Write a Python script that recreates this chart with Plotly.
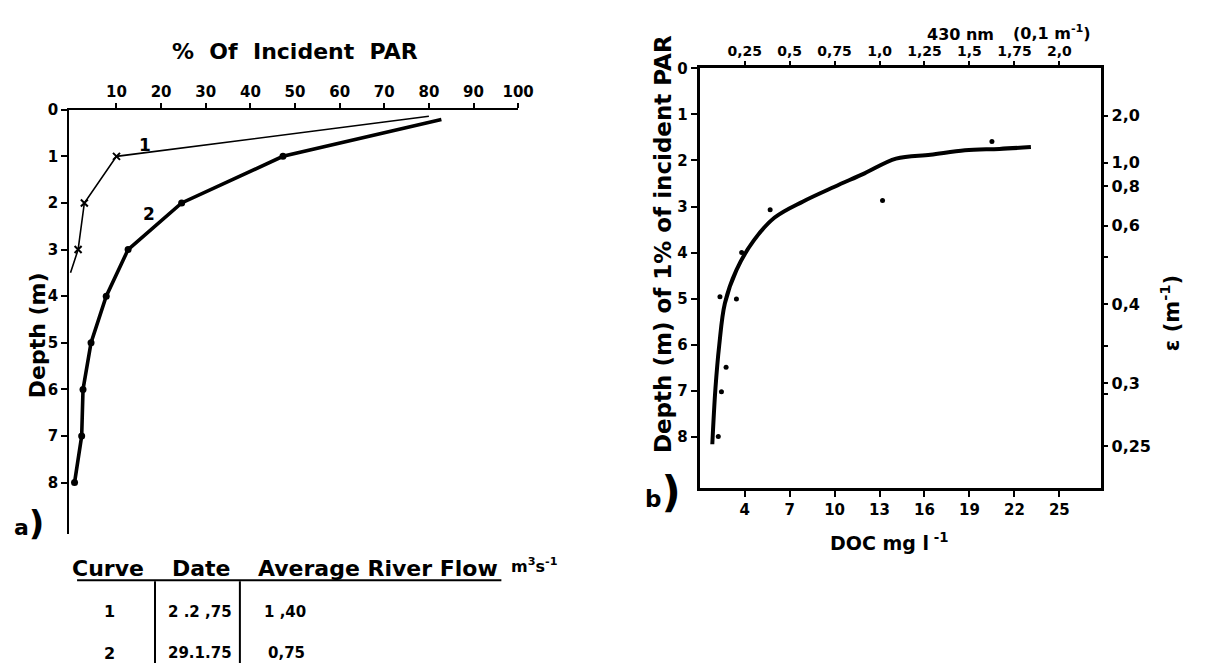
import plotly.graph_objects as go

W, H = 1208, 663
FONT = "DejaVu Sans"

# ---------------- Panel a data ----------------
curve1_par = [80, 10, 2.8, 1.4, -0.3]
curve1_depth = [0.14, 1, 2, 3, 3.5]
curve2_par = [82.8, 47.3, 24.6, 12.6, 7.7, 4.3, 2.5, 2.2, 0.6]
curve2_depth = [0.21, 1, 2, 3, 4, 5, 6, 7, 8]
a_xticks = [10, 20, 30, 40, 50, 60, 70, 80, 90, 100]
a_yticks = [0, 1, 2, 3, 4, 5, 6, 7, 8]

# ---------------- Panel b data ----------------
fit_doc = [1.84, 2.05, 2.3, 2.68, 3.45, 4.6, 6.0, 7.9, 10.0, 12.0, 14.1, 16.4, 18.7, 21.0, 23.1]
fit_depth = [8.16, 6.95, 6.02, 5.1, 4.38, 3.74, 3.24, 2.89, 2.57, 2.28, 1.96, 1.875, 1.78, 1.75, 1.71]
obs_doc = [20.5, 13.2, 5.7, 3.8, 2.35, 3.45, 2.76, 2.45, 2.24]
obs_depth = [1.59, 2.87, 3.07, 4.0, 4.96, 5.01, 6.49, 7.02, 7.99]
doc_ticks = [4, 7, 10, 13, 16, 19, 22, 25]
abs_ticks = [0.25, 0.5, 0.75, 1.0, 1.25, 1.5, 1.75, 2.0]
abs_labels = ["0,25", "0,5", "0,75", "1,0", "1,25", "1,5", "1,75", "2,0"]
b_yticks = [0, 1, 2, 3, 4, 5, 6, 7, 8]
eps_ticks = [2.0, 1.0, 0.8, 0.6, 0.4, 0.3, 0.25]
eps_labels = ["2,0", "1,0", "0,8", "0,6", "0,4", "0,3", "0,25"]
eps_minor = [0.5, 0.34, 0.29]
EPS_K = 2.05  # depth of 1% light ~ K / epsilon (as drawn)

# ---------------- Table ----------------
tbl_curve = ["1", "2"]
tbl_date = ["2 .2 ,75", "29.1.75"]
tbl_flow = ["1 ,40", "0,75"]

DOC0, DOC_PER_ABS = 1.0, 12.0
doc_range = [1.0, 27.8]
abs_range = [(doc_range[0] - DOC0) / DOC_PER_ABS, (doc_range[1] - DOC0) / DOC_PER_ABS]


def px(x):
    return x / W


def py(y):
    return 1 - y / H


fig = go.Figure()

# Panel a curves
fig.add_trace(go.Scatter(x=curve1_par, y=curve1_depth, mode="lines",
                         line=dict(color="black", width=1.6), xaxis="x", yaxis="y",
                         showlegend=False, hoverinfo="skip"))
fig.add_trace(go.Scatter(x=curve1_par[1:4], y=curve1_depth[1:4], mode="markers",
                         marker=dict(symbol="x-thin", size=7, color="black",
                                     line=dict(width=2, color="black")),
                         xaxis="x", yaxis="y", showlegend=False))
fig.add_trace(go.Scatter(x=curve2_par, y=curve2_depth, mode="lines",
                         line=dict(color="black", width=3.6), xaxis="x", yaxis="y",
                         showlegend=False))
fig.add_trace(go.Scatter(x=curve2_par[1:], y=curve2_depth[1:], mode="markers",
                         marker=dict(symbol="circle", size=7, color="black"),
                         xaxis="x", yaxis="y", showlegend=False))

# Panel b
fig.add_trace(go.Scatter(x=fit_doc, y=fit_depth, mode="lines",
                         line=dict(color="black", width=4, shape="spline", smoothing=1.0),
                         xaxis="x2", yaxis="y2", showlegend=False))
fig.add_trace(go.Scatter(x=obs_doc, y=obs_depth, mode="markers",
                         marker=dict(symbol="circle", size=5, color="black"),
                         xaxis="x2", yaxis="y2", showlegend=False))
# invisible trace to activate top / right axes
fig.add_trace(go.Scatter(x=[abs_ticks[0]], y=[b_yticks[0]], mode="markers",
                         marker=dict(size=1, color="rgba(0,0,0,0)"),
                         xaxis="x3", yaxis="y3", showlegend=False, hoverinfo="skip"))

tickf = dict(family=FONT, size=15, color="black", weight="bold")
tickf_b = dict(family=FONT, size=14, color="black", weight="bold")

fig.update_layout(
    width=W, height=H, autosize=False,
    margin=dict(l=0, r=0, t=0, b=0),
    paper_bgcolor="white", plot_bgcolor="rgba(0,0,0,0)",
    font=dict(family=FONT, color="black"),
    xaxis=dict(domain=[px(62), px(517)], range=[-0.6, 100], side="top", anchor="y",
               tickvals=a_xticks, ticks="outside", ticklen=5, tickwidth=2, tickcolor="black",
               showline=True, linewidth=2, linecolor="black", showgrid=False, zeroline=False,
               tickfont=tickf, fixedrange=True),
    yaxis=dict(domain=[py(524), py(94)], range=[9.1, 0], anchor="x",
               tickvals=a_yticks, ticks="outside", ticklen=6, tickwidth=2, tickcolor="black",
               showline=True, linewidth=2, linecolor="black", showgrid=False, zeroline=False,
               tickfont=tickf, fixedrange=True),
    xaxis2=dict(domain=[px(701), px(1108)], range=doc_range, side="bottom", anchor="y2",
                tickvals=doc_ticks, ticks="outside", ticklen=6, tickwidth=2, tickcolor="black",
                showline=True, mirror=True, linewidth=3, linecolor="black",
                showgrid=False, zeroline=False, tickfont=tickf, fixedrange=True),
    xaxis3=dict(overlaying="x2", range=abs_range, side="top", anchor="y2",
                tickvals=abs_ticks, ticktext=abs_labels, ticks="outside", ticklen=6,
                tickwidth=2, tickcolor="black", showline=False, showgrid=False,
                zeroline=False, tickfont=tickf_b, fixedrange=True),
    yaxis2=dict(domain=[py(477), py(52)], range=[9.1, 0], anchor="x2",
                tickvals=b_yticks, ticks="outside", ticklen=6, tickwidth=2, tickcolor="black",
                showline=True, mirror=True, linewidth=3, linecolor="black",
                showgrid=False, zeroline=False, tickfont=tickf, fixedrange=True),
    yaxis3=dict(overlaying="y2", range=[9.1, 0], side="right", anchor="x2",
                tickvals=[EPS_K / e for e in eps_ticks], ticktext=eps_labels,
                ticks="outside", ticklen=6, tickwidth=2, tickcolor="black",
                minor=dict(tickmode="array", tickvals=[EPS_K / e for e in eps_minor],
                           ticks="outside", ticklen=6, tickwidth=2, tickcolor="black"),
                showline=False, showgrid=False, zeroline=False,
                tickfont=dict(family=FONT, size=16, color="black", weight="bold"),
                fixedrange=True),
)


def ann(text, x, y, size, angle=0, xanchor="center", yanchor="middle", ref="paper"):
    if ref == "paper":
        x, y = px(x), py(y)
        xr, yr = "paper", "paper"
    else:
        xr, yr = ref
    fig.add_annotation(text=text, x=x, y=y, xref=xr, yref=yr, showarrow=False,
                       textangle=angle, xanchor=xanchor, yanchor=yanchor,
                       font=dict(family=FONT, size=size, color="black", weight="bold"))


# Panel a texts
ann("%  Of  Incident  PAR", 291, 35, 22)
ann("Depth (m)", 30, 323, 22, angle=-90)
ann("a<span style='font-size:34px'>)</span>", 21, 513, 22)
ann("1", 16.4, 0.76, 17, ref=("x", "y"))
ann("2", 17.2, 2.24, 17, ref=("x", "y"))

# Panel b texts
ann("Depth (m) of 1% of incident PAR", 664, 230, 23, angle=-90)
ann("b<span style='font-size:42px'>)</span>", 664, 482, 23)
ann("430 nm", 965, 18, 16)
ann("(0,1 m<sup>-1</sup>)", 1058, 16, 16)
ann("ε (m<sup>-1</sup>)", 1178, 300, 21, angle=-90)
ann("DOC mg l<sup> -1</sup>", 893, 532, 19)

# Table
ann("Curve", 140, 559, 22, xanchor="right")
ann("Date", 164, 559, 22, xanchor="left")
ann("Average River Flow", 251, 559, 22, xanchor="left")
ann("m<sup>3</sup>s<sup>-1</sup>", 508, 556, 16, xanchor="left")
row_y = [603, 645]
for i in range(2):
    ann(tbl_curve[i], 103, row_y[i], 16)
    ann(tbl_date[i], 229, row_y[i], 15, xanchor="right")
    ann(tbl_flow[i], 257 + 4 * i, row_y[i], 15, xanchor="left")

line = dict(color="black", width=2)
fig.add_shape(type="line", xref="paper", yref="paper", x0=px(70), x1=px(500),
              y0=py(571), y1=py(571), line=line)
fig.add_shape(type="line", xref="paper", yref="paper", x0=px(149), x1=px(149),
              y0=py(572), y1=py(657), line=line)
fig.add_shape(type="line", xref="paper", yref="paper", x0=px(235), x1=px(235),
              y0=py(572), y1=py(657), line=line)

fig.write_html("out.html")
